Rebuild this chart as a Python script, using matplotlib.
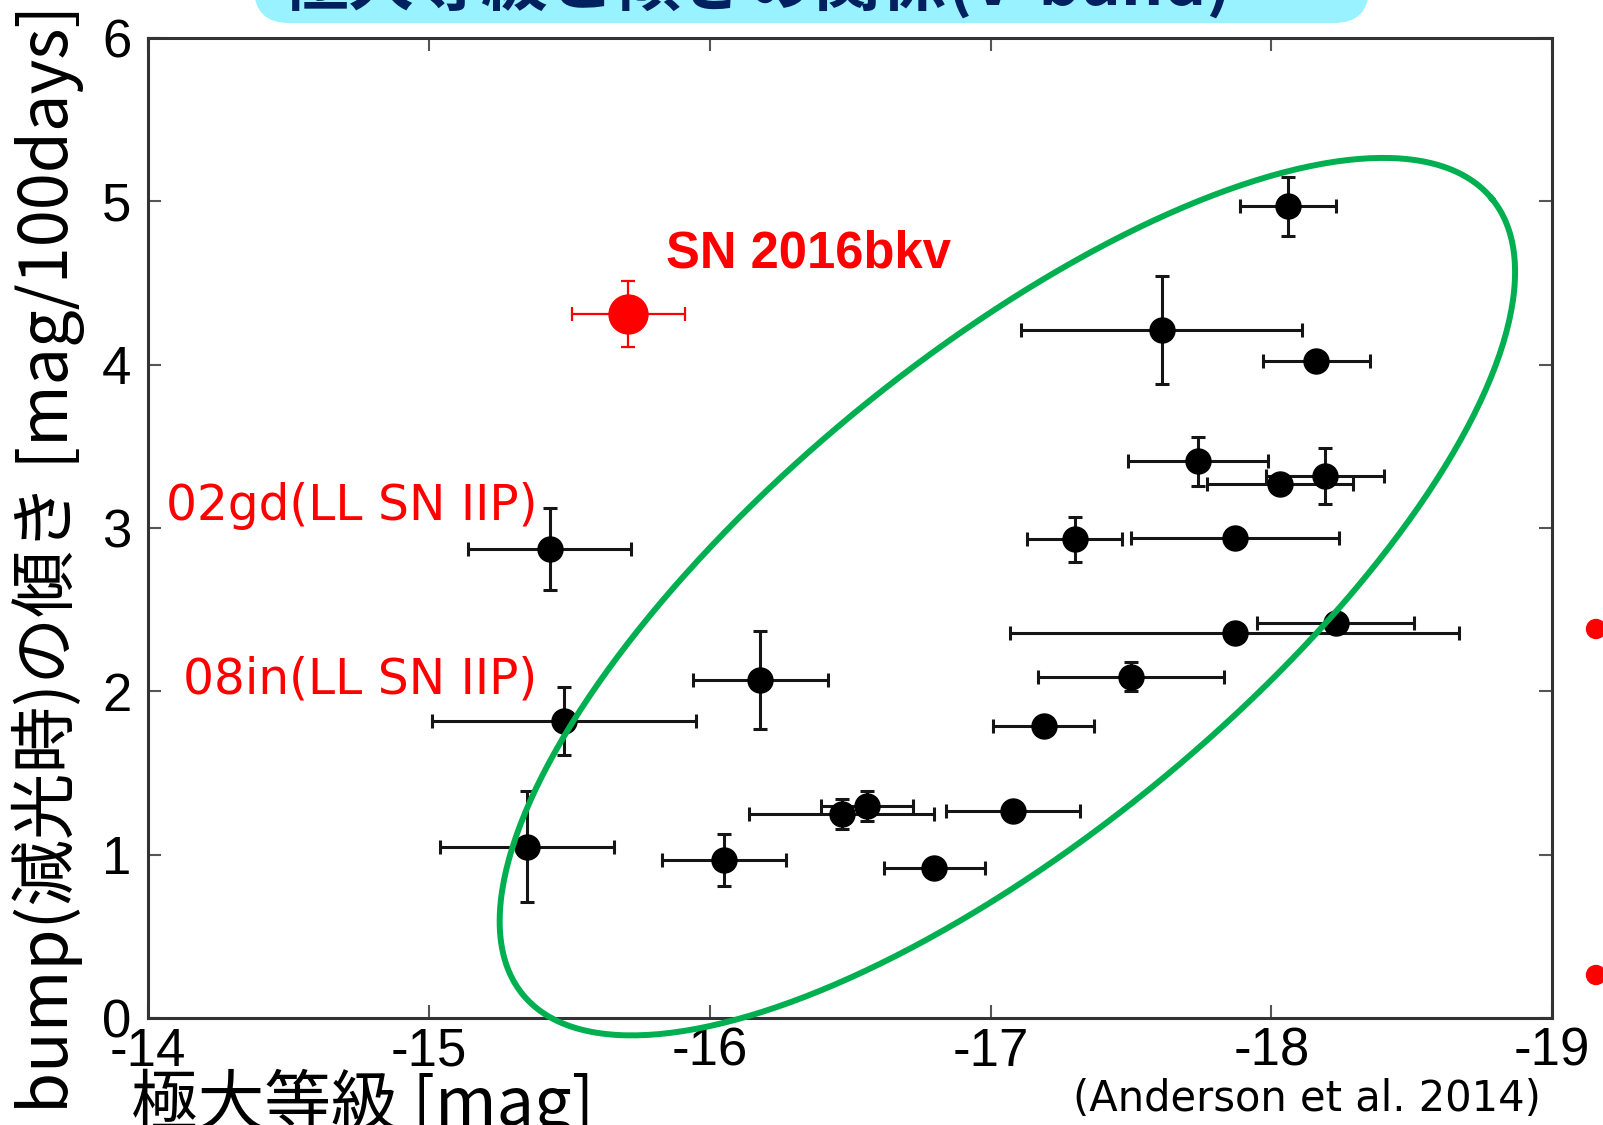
import numpy as np
import matplotlib.pyplot as plt
from matplotlib.patches import FancyBboxPatch, Ellipse

# Anderson et al. 2014 sample (V band)
peak_mag = [-18.06, -17.61, -18.16, -17.74, -18.03, -18.19, -17.30, -17.87, -15.43, -15.48, -16.18,
            -15.35, -16.05, -16.47, -16.56, -17.08, -16.80, -17.19, -17.50, -17.87, -18.23]
slope = [4.97, 4.21, 4.02, 3.41, 3.27, 3.32, 2.93, 2.94, 2.87, 1.82, 2.07,
         1.05, 0.97, 1.25, 1.30, 1.27, 0.92, 1.79, 2.09, 2.36, 2.42]
mag_err = [0.17, 0.50, 0.19, 0.25, 0.26, 0.21, 0.17, 0.37, 0.29, 0.47, 0.24,
           0.31, 0.22, 0.33, 0.165, 0.24, 0.18, 0.18, 0.33, 0.80, 0.28]
slope_err = [0.18, 0.33, 0.05, 0.15, 0.05, 0.17, 0.14, 0.05, 0.25, 0.21, 0.30,
             0.34, 0.16, 0.09, 0.09, 0.05, 0.05, 0.05, 0.09, 0.05, 0.05]

# SN 2016bkv
bkv_mag = [-15.71]
bkv_slope = [4.31]
bkv_mag_err = [0.20]
bkv_slope_err = [0.20]

x_ticks = [-14, -15, -16, -17, -18, -19]
x_tick_labels = ['-14', '-15', '-16', '-17', '-18', '-19']
y_ticks = [0, 1, 2, 3, 4, 5, 6]
y_tick_labels = ['0', '1', '2', '3', '4', '5', '6']

# green ellipse drawn by hand on the slide (center in data units, axes in pixels)
ell_center = (-17.06, 2.58)
ell_a, ell_b, ell_angle = 627, 239, 39.4

plt.rcParams['axes.unicode_minus'] = False
plt.rcParams['font.family'] = ['Liberation Sans Narrow', 'Liberation Sans', 'DejaVu Sans']
jp = ['Noto Sans CJK JP', 'DejaVu Sans']

fig = plt.figure(figsize=(16.03, 11.25), dpi=100)
ax = fig.add_axes([0.0925, 0.0949, 0.8757, 0.8715])

ax.errorbar(peak_mag, slope, xerr=mag_err, yerr=slope_err, fmt='o', color='black',
            ecolor='#151515', ms=18, elinewidth=2.2, capsize=4.7, capthick=2.2, zorder=3)
ax.errorbar(bkv_mag, bkv_slope, xerr=bkv_mag_err, yerr=bkv_slope_err, fmt='o', color='red',
            ms=28, elinewidth=1.6, capsize=5.2, capthick=1.6, zorder=4)

ax.set_xlim(-14, -19)
ax.set_ylim(0, 6)
ax.set_xticks(x_ticks)
ax.set_xticklabels(x_tick_labels)
ax.set_yticks(y_ticks)
ax.set_yticklabels(y_tick_labels)
ax.tick_params(direction='in', top=True, right=True, length=9.5, width=1.5,
               color='#555555', labelsize=38)
ax.tick_params(axis='x', pad=6)
ax.tick_params(axis='y', pad=12)
for sp in ax.spines.values():
    sp.set_linewidth(2.2)
    sp.set_color('#333333')

# ellipse: built in pixel space so it keeps its on-screen shape
t = np.linspace(0, 2 * np.pi, 400)
th = np.radians(ell_angle)
cx, cy = ax.transData.transform(ell_center)
px = cx + ell_a * np.cos(t) * np.cos(th) - ell_b * np.sin(t) * np.sin(th)
py = cy + ell_a * np.cos(t) * np.sin(th) + ell_b * np.sin(t) * np.cos(th)
ell = ax.transData.inverted().transform(np.column_stack([px, py]))
ax.plot(ell[:, 0], ell[:, 1], color='#00B050', lw=4.3, clip_on=False, zorder=5)

# annotations
ax.text(-15.844, 4.597, 'SN 2016bkv', color='red', fontsize=36.5, fontweight='bold',
        family=['Liberation Sans', 'DejaVu Sans'], va='baseline', ha='left')
ax.text(-14.063, 3.05, '02gd(LL SN IIP)', color='red', fontsize=35,
        family='DejaVu Sans', va='baseline', ha='left')
ax.text(-14.124, 1.99, '08in(LL SN IIP)', color='red', fontsize=35,
        family='DejaVu Sans', va='baseline', ha='left')

fig.text(0.0305, 0.503, 'bump(減光時)の傾き [mag/100days]', rotation=90, fontsize=48,
         family=jp, va='center', ha='center')
fig.text(0.0817, 0.0, '極大等級 [mag]', fontsize=48, family=jp, va='baseline', ha='left')
fig.text(0.9613, 0.023, '(Anderson et al. 2014)', fontsize=30, family='DejaVu Sans',
         va='center', ha='right')

# slide decorations: title banner (cut off) and bullets on the right
banner = FancyBboxPatch((2.54, 11.02), 11.15, 1.2, boxstyle='round,pad=0,rounding_size=0.35',
                        transform=fig.dpi_scale_trans, facecolor='#99F2FF', edgecolor='none')
fig.add_artist(banner)
fig.text(7.57, 11.20, '極大等級と傾きの関係(V-band)', transform=fig.dpi_scale_trans,
         fontsize=48, fontweight='bold', color='#002060', family=jp, ha='center', va='baseline')
for yb in [629, 975]:
    fig.add_artist(Ellipse((1596 / 1603, 1 - yb / 1125), 19 / 1603, 19 / 1125,
                           transform=fig.transFigure, color='red'))

fig.savefig('out.png', dpi=100)
